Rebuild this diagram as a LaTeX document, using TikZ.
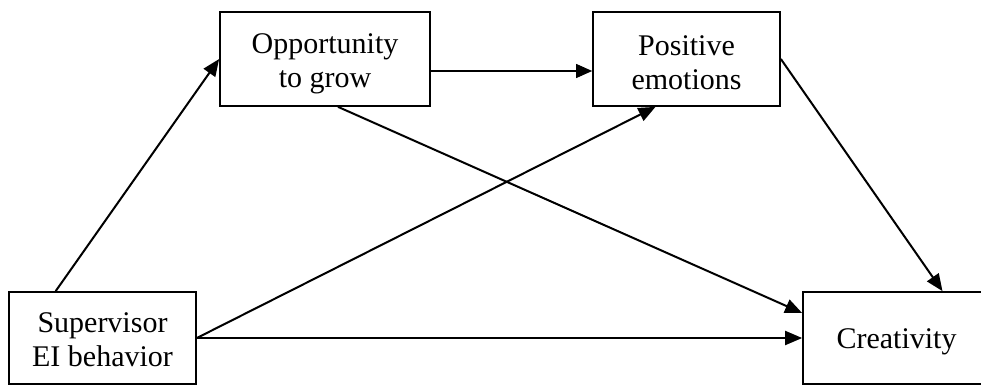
\documentclass[tikz,border=0pt]{standalone}
\usepackage{fontspec}
\setmainfont{Liberation Serif}
\usepackage{tikz}
\usetikzlibrary{arrows.meta}

\begin{document}
\begin{tikzpicture}[x=1pt,y=-1pt,
    box/.style={draw, line width=1.7pt, rectangle, inner sep=0pt},
    txt/.style={align=center, inner sep=0pt, font=\fontsize{30}{34}\selectfont},
    arr/.style={line width=2pt, -{Triangle[length=17pt,width=14pt]}},
    thinarr/.style={line width=1.1pt, -{Triangle[length=16pt,width=14pt]}}]
             \clip (0,0) rectangle (981,385);

             % boxes
             \node[box, minimum width=187pt, minimum height=92pt] (sup) at (102.5,338) {};
             \node[box, minimum width=210pt, minimum height=94pt] (opp) at (325,59) {};
             \node[box, minimum width=187pt, minimum height=94pt] (pos) at (686.5,59) {};
             \node[box, minimum width=187pt, minimum height=92pt] (cre) at (896.5,338) {};

             % texts
             \node[txt] (suptext) at ([yshift=-2pt]sup.center) {Supervisor\\EI behavior};
             \node[txt] (opptext) at ([yshift=-5pt]opp.center) {Opportunity\\to grow};
             \node[txt] (postext) at ([yshift=-4pt]pos.center) {Positive\\emotions};
             \node[txt] (cretext) at ([yshift=-4pt]cre.center) {Creativity};

             \draw[arr] (sup.135) -- (opp.west);
             \draw[thinarr] ([yshift=-12pt]opp.east) -- ([yshift=-12pt]pos.west);
             \draw[arr] (pos.east) -- ([xshift=46pt]cre.north);
             \draw[arr] ([xshift=13pt]opp.south) -- ([yshift=25pt]cre.west);
             \draw[arr] (sup.east) -- ([xshift=-31pt]pos.south);
             \draw[arr] (sup.east) -- (cre.west);
\end{tikzpicture}
\end{document}
